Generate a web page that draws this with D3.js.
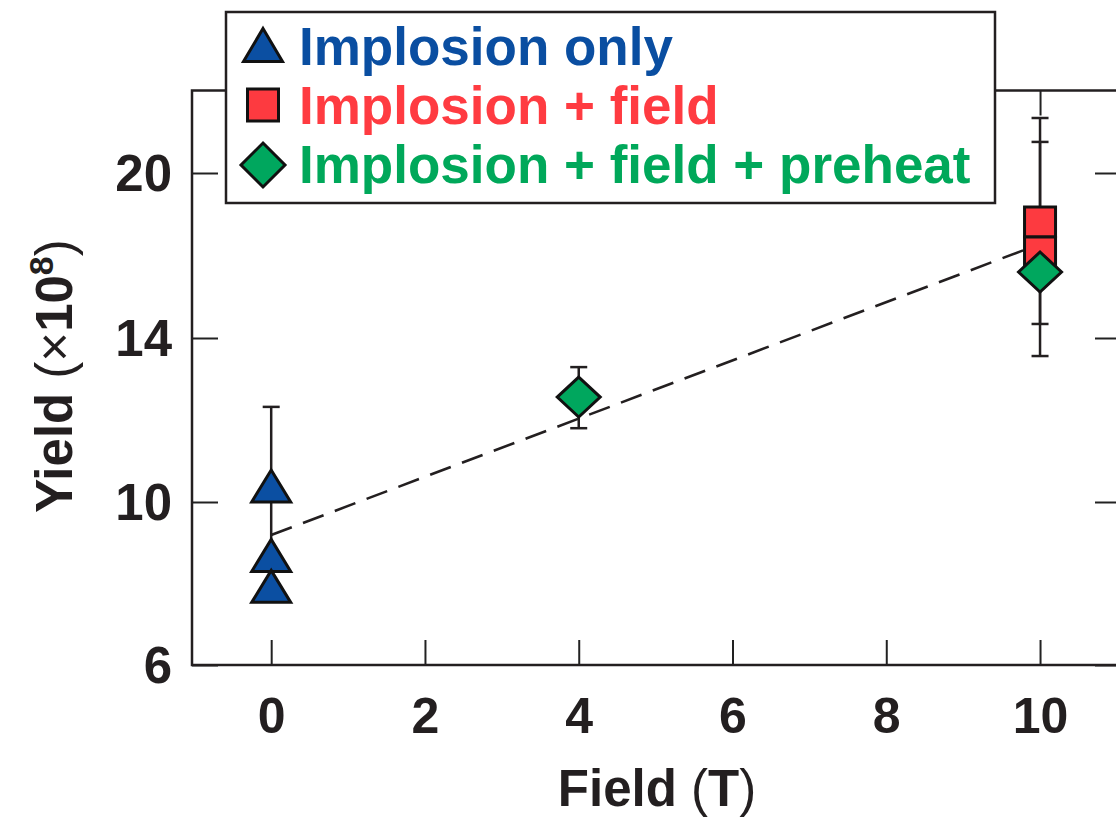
<!DOCTYPE html>
<html>
<head>
<meta charset="utf-8">
<script src="https://cdn.jsdelivr.net/npm/d3@7"></script>
<style>
  body { margin: 0; background: #fff; }
  svg { display: block; font-family: "Liberation Sans", Arial, Helvetica, sans-serif; }
</style>
</head>
<body>
<script>
// series data (field in T, yield in 1e8)
const seriesNames = ["Implosion only", "Implosion + field", "Implosion + field + preheat"]

const implosionField = [0, 0, 0]
const implosionYield = [10.39, 8.69, 7.93]
const implosionLow = [8.46, null, null]
const implosionHigh = [12.32, null, null]

const fieldField = [10, 10]
const fieldYield = [18.22, 17.13]
const fieldLow = [14.51, 13.56]
const fieldHigh = [22.0, 21.13]

const preheatField = [4, 10]
const preheatYield = [12.56, 16.4]
const preheatLow = [11.80, null]
const preheatHigh = [13.29, null]

// dashed fit
const fitField = [0, 10]
const fitYield = [9.19, 17.42]

const xTicks = [0, 2, 4, 6, 8, 10]
const yTicks = [6, 10, 14, 20]

const width = 1116, height = 817
const blue = "#0b4fa2", red = "#fd3a40", green = "#00a75e"
const blueText = "#0a4ea1", redText = "#ff3b41", greenText = "#00a85a"

const svg = d3.select("body").append("svg")
  .attr("width", width)
  .attr("height", height)

const xMin = -1.03, xMax = 11.04
const x = d3.scaleLinear().domain([xMin, xMax]).range([192, 1120])
// the printed axis has equal spacing between 6, 10, 14 and 20
const y = d3.scaleLinear().domain(yTicks).range([665, 502, 338, 173])
const yTop = y(23)

// ticks
svg.append("g")
  .attr("transform", `translate(0,${y(6)})`)
  .call(d3.axisBottom(x).tickValues(xTicks).tickSize(-25).tickPadding(32).tickFormat(d3.format("d")))
  .call(g => g.select(".domain").remove())
  .call(g => g.selectAll("line").attr("stroke", "#222").attr("stroke-width", 2))
  .call(g => g.selectAll("text").attr("font-size", 50).attr("font-weight", "bold").attr("fill", "#231f20"))

svg.append("g")
  .attr("transform", `translate(0,${yTop})`)
  .call(d3.axisTop(x).tickValues(xTicks).tickSize(-25).tickFormat(""))
  .call(g => g.select(".domain").remove())
  .call(g => g.selectAll("line").attr("stroke", "#222").attr("stroke-width", 2))

svg.append("g")
  .attr("transform", `translate(${x(xMin)},0)`)
  .call(d3.axisLeft(y).tickValues(yTicks).tickSize(-26).tickPadding(20).tickFormat(d3.format("d")))
  .call(g => g.select(".domain").remove())
  .call(g => g.selectAll("line").attr("stroke", "#222").attr("stroke-width", 2))
  .call(g => g.selectAll("text").attr("font-size", 51).attr("font-weight", "bold").attr("fill", "#231f20").attr("dy", "0.35em"))

svg.append("g")
  .attr("transform", `translate(${x(xMax)},0)`)
  .call(d3.axisRight(y).tickValues(yTicks).tickSize(-25).tickFormat(""))
  .call(g => g.select(".domain").remove())
  .call(g => g.selectAll("line").attr("stroke", "#222").attr("stroke-width", 2))

// frame
svg.append("rect")
  .attr("x", x(xMin))
  .attr("y", yTop)
  .attr("width", x(xMax) - x(xMin))
  .attr("height", y(6) - yTop)
  .attr("fill", "none")
  .attr("stroke", "#231f20")
  .attr("stroke-width", 2.5)

// fit line
svg.append("line")
  .attr("x1", x(fitField[0])).attr("y1", y(fitYield[0]))
  .attr("x2", x(fitField[1])).attr("y2", y(fitYield[1]))
  .attr("stroke", "#231f20")
  .attr("stroke-width", 2.6)
  .attr("stroke-dasharray", "22,12")

// error bars
function errorBars(fields, lows, highs) {
  const pts = fields.map((f, i) => ({ f, lo: lows[i], hi: highs[i] })).filter(d => d.lo != null)
  const g = svg.append("g").attr("stroke", "#231f20").attr("stroke-width", 2.5)
  pts.forEach(d => {
    g.append("line").attr("x1", x(d.f)).attr("x2", x(d.f)).attr("y1", y(d.lo)).attr("y2", y(d.hi))
    g.append("line").attr("x1", x(d.f) - 8.5).attr("x2", x(d.f) + 8.5).attr("y1", y(d.lo)).attr("y2", y(d.lo))
    g.append("line").attr("x1", x(d.f) - 8.5).attr("x2", x(d.f) + 8.5).attr("y1", y(d.hi)).attr("y2", y(d.hi))
  })
}
errorBars(implosionField, implosionLow, implosionHigh)
errorBars(fieldField, fieldLow, fieldHigh)
errorBars(preheatField, preheatLow, preheatHigh)

// marker shapes
const triPath = (w, h) => `M0,${-h / 2}L${w / 2},${h / 2}L${-w / 2},${h / 2}Z`
const sqPath = (w, h) => `M${-w / 2},${-h / 2}H${w / 2}V${h / 2}H${-w / 2}Z`
const diaPath = (w, h) => `M0,${-h / 2}L${w / 2},0L0,${h / 2}L${-w / 2},0Z`

function markers(fields, yields, path, fill) {
  svg.append("g").selectAll("path")
    .data(fields.map((f, i) => [f, yields[i]]))
    .join("path")
    .attr("transform", d => `translate(${x(d[0])},${y(d[1])})`)
    .attr("d", path)
    .attr("fill", fill)
    .attr("stroke", "#111")
    .attr("stroke-width", 3)
    .attr("stroke-linejoin", "miter")
}
markers(implosionField, implosionYield, triPath(39, 32), blue)
markers(fieldField, fieldYield, sqPath(31, 30), red)
markers(preheatField, preheatYield, diaPath(43, 40), green)

// legend
const legend = svg.append("g")
legend.append("rect")
  .attr("x", 226).attr("y", 12).attr("width", 769).attr("height", 191)
  .attr("fill", "#fff").attr("stroke", "#231f20").attr("stroke-width", 2.5)

const legendItems = [
  { name: seriesNames[0], path: triPath(39, 33), fill: blue, color: blueText, cx: 263, cy: 45 },
  { name: seriesNames[1], path: sqPath(31, 32), fill: red, color: redText, cx: 263, cy: 105 },
  { name: seriesNames[2], path: diaPath(44, 44), fill: green, color: greenText, cx: 263, cy: 165 }
]
legendItems.forEach((d, i) => {
  legend.append("path")
    .attr("transform", `translate(${d.cx},${d.cy})`)
    .attr("d", d.path)
    .attr("fill", d.fill)
    .attr("stroke", "#111")
    .attr("stroke-width", 3)
  legend.append("text")
    .attr("x", 299)
    .attr("y", 65 + i * 59)
    .attr("font-size", 53)
    .attr("font-weight", "bold")
    .attr("fill", d.color)
    .text(d.name)
})

// axis titles
svg.append("text")
  .attr("x", 657).attr("y", 806)
  .attr("text-anchor", "middle")
  .attr("font-size", 51)
  .attr("fill", "#231f20")
  .call(t => {
    t.append("tspan").attr("font-weight", "bold").text("Field ")
    t.append("tspan").text("(")
    t.append("tspan").attr("font-weight", "bold").text("T")
    t.append("tspan").text(")")
  })

svg.append("text")
  .attr("transform", "translate(72,376) rotate(-90)")
  .attr("text-anchor", "middle")
  .attr("font-size", 51)
  .attr("fill", "#231f20")
  .call(t => {
    t.append("tspan").attr("font-weight", "bold").text("Yield ")
    t.append("tspan").text("(×")
    t.append("tspan").attr("font-weight", "bold").text("10")
    t.append("tspan").attr("font-weight", "bold").attr("font-size", 34).attr("dy", "-0.55em").text("8")
    t.append("tspan").attr("dy", "0.37em").text(")")
  })
</script>
</body>
</html>
